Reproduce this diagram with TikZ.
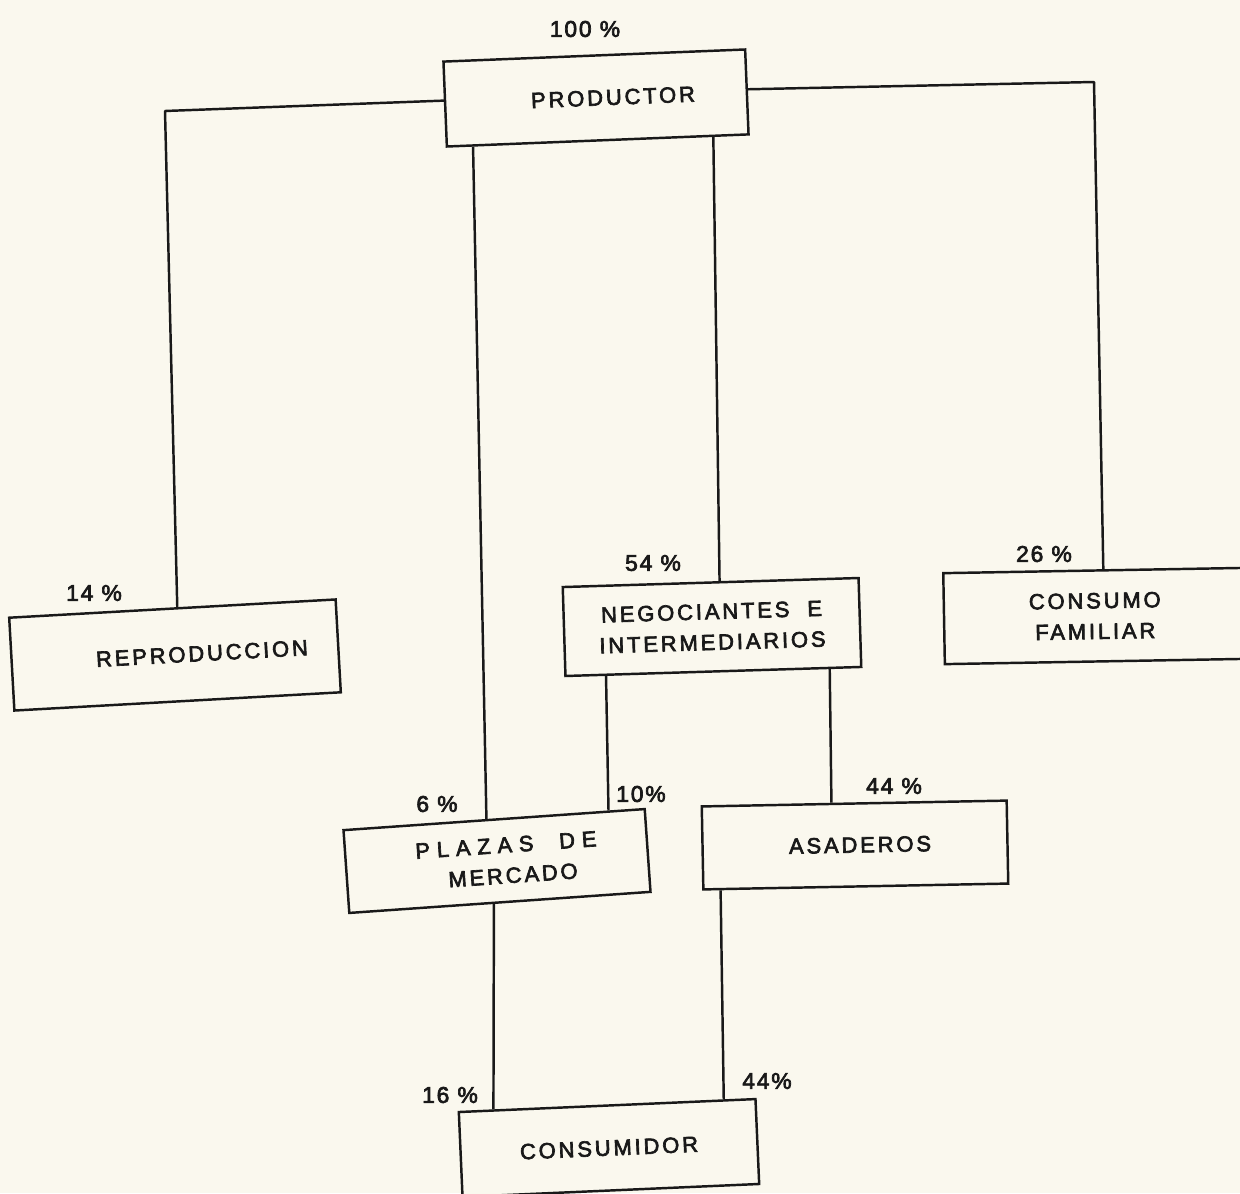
\documentclass[tikz,border=0pt]{standalone}
\usepackage{fontspec}
\setmainfont{Liberation Sans}
\newfontfamily\lett[LetterSpace=13,FakeBold=3]{Liberation Sans}
\newfontfamily\lettw[LetterSpace=31,FakeBold=3]{Liberation Sans}
\newfontfamily\lettp[LetterSpace=8,FakeBold=3]{Liberation Sans}
\usetikzlibrary{calc}
\definecolor{ink}{RGB}{25,25,25}
\definecolor{paper}{RGB}{250,248,238}
\begin{document}
\begin{tikzpicture}[x=0.02cm,y=-0.02cm,
  box/.style={draw=ink,line width=1.4pt,fill=paper,inner sep=0pt,align=center,
    font=\lett\fontsize{12.5}{17.5}\selectfont,text=ink},
  pct/.style={font=\lettp\fontsize{13}{14}\selectfont,text=ink,inner sep=0pt},
  link/.style={draw=ink,line width=1.4pt,line join=round}]
\fill[paper] (0,0) rectangle (1240,1193);
\useasboundingbox (0,0) rectangle (1240,1193);

% boxes
\node[box,minimum width=6.04cm,minimum height=1.70cm,rotate=2.3] (prod) at (596,98) {\hspace*{0.68cm}PRODUCTOR};
\node[box,minimum width=6.54cm,minimum height=1.86cm,rotate=3.2] (rep) at (175,655) {\hspace*{1.08cm}REPRODUCCION};
\node[box,minimum width=5.92cm,minimum height=1.78cm,rotate=1.75] (neg) at (712,627) {NEGOCIANTES\ \ E\\INTERMEDIARIOS};
\node[box,minimum width=6.04cm,minimum height=1.82cm,rotate=1.0] (fam) at (1095,616) {CONSUMO\\FAMILIAR};
\node[box,minimum width=6.04cm,minimum height=1.66cm,rotate=4] (plaz) at (497,861) {\hspace*{0.4cm}{\lettw PLAZAS\ \ DE}\\\hspace*{0.6cm}MERCADO};
\node[box,minimum width=6.10cm,minimum height=1.66cm,rotate=1.1] (asa) at (855,845) {\hspace*{0.2cm}ASADEROS};
\node[box,minimum width=5.94cm,minimum height=1.70cm,rotate=2.5] (cons) at (609,1148) {CONSUMIDOR};

% connectors
\coordinate (kl) at (165,111);
\coordinate (kr) at (1094,82);
\draw[link] ($(prod.north west)!0.46!(prod.south west)$) -- (kl) -- ($(rep.north west)!0.515!(rep.north east)$);
\draw[link] ($(prod.north east)!0.47!(prod.south east)$) -- (kr) -- ($(fam.north west)!0.53!(fam.north east)$);
\draw[link] ($(prod.south west)!0.09!(prod.south east)$) -- ($(plaz.north west)!0.475!(plaz.north east)$);
\draw[link] ($(prod.south west)!0.88!(prod.south east)$) -- ($(neg.north west)!0.53!(neg.north east)$);
\draw[link] ($(neg.south west)!0.14!(neg.south east)$) -- ($(plaz.north west)!0.877!(plaz.north east)$);
\draw[link] ($(neg.south west)!0.89!(neg.south east)$) -- ($(asa.north west)!0.426!(asa.north east)$);
\draw[link] ($(plaz.south west)!0.48!(plaz.south east)$) -- ($(cons.north west)!0.12!(cons.north east)$);
\draw[link] ($(asa.south west)!0.06!(asa.south east)$) -- ($(cons.north west)!0.89!(cons.north east)$);

% percentages
\node[pct] (p100) at (585,29) {100 \%};
\node[pct] (p14) at (94,593) {14 \%};
\node[pct] (p54) at (653,563) {54 \%};
\node[pct] (p26) at (1044,554) {26 \%};
\node[pct] (p6) at (437,804) {6 \%};
\node[pct] (p10) at (641,794) {10\%};
\node[pct] (p44a) at (894,786) {44 \%};
\node[pct] (p16) at (450,1095) {16 \%};
\node[pct] (p44b) at (767,1081) {44\%};
\end{tikzpicture}
\end{document}
